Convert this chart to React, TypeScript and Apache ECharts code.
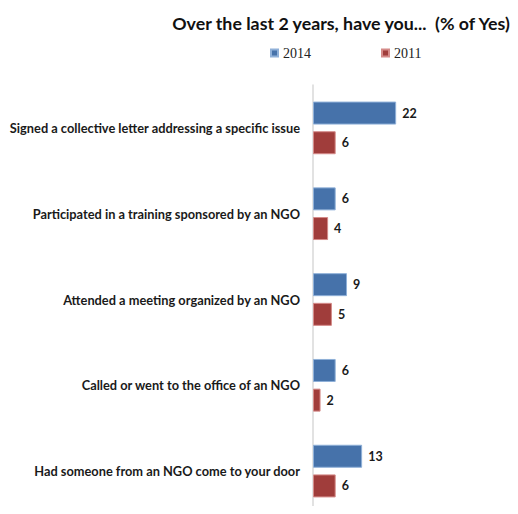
import React, { useEffect, useRef } from "react";
import * as echarts from "echarts";

const categories = [
  "Signed a collective letter addressing a specific issue",
  "Participated in a training sponsored by an NGO",
  "Attended a meeting organized by an NGO",
  "Called or went to the office of an NGO",
  "Had someone from an NGO come to your door",
];
const values2014 = [22, 6, 9, 6, 13];
const values2011 = [6, 4, 5, 2, 6];
const seriesNames = ["2014", "2011"];
const titleText = "Over the last 2 years, have you...  (% of Yes)";

const labelFont = "Lato, 'Open Sans', sans-serif";

export default function App() {
  const ref = useRef<HTMLDivElement>(null);
  useEffect(() => {
    if (!ref.current) return;
    const chart = echarts.init(ref.current, null, { renderer: "svg" });
    const valueLabel = {
      show: true,
      position: "right",
      distance: 6,
      fontFamily: labelFont,
      fontWeight: "bold",
      fontSize: 12.5,
      color: "#1a1a1a",
    };
    chart.setOption({
      animation: false,
      backgroundColor: "#ffffff",
      title: {
        text: titleText,
        left: 336,
        textAlign: "center",
        top: 9,
        textStyle: {
          fontFamily: labelFont,
          fontWeight: "bold",
          fontSize: 17.8,
          color: "#111111",
        },
      },
      legend: {
        data: seriesNames,
        left: 265,
        top: 41,
        icon: "rect",
        itemWidth: 7,
        itemHeight: 7,
        itemGap: 70,
        textStyle: {
          fontFamily: "'Liberation Serif', 'DejaVu Serif', serif",
          fontSize: 14,
          color: "#222222",
        },
      },
      grid: {
        left: 313,
        top: 85,
        width: 94.5,
        bottom: -4,
        containLabel: false,
      },
      xAxis: {
        type: "value",
        min: 0,
        max: 25,
        show: false,
      },
      yAxis: {
        type: "category",
        data: categories,
        inverse: true,
        axisLine: { show: true, lineStyle: { color: "#d9d9d9", width: 1.5 } },
        axisTick: { show: false },
        axisLabel: {
          margin: 13,
          fontFamily: labelFont,
          fontWeight: "bold",
          fontSize: 12.8,
          color: "#1a1a1a",
        },
      },
      series: [
        {
          name: seriesNames[0],
          type: "bar",
          data: values2014,
          barWidth: 23,
          barGap: "29%",
          itemStyle: { color: "#4672aa", borderColor: "#8fb0d8", borderWidth: 1 },
          label: valueLabel,
        },
        {
          name: seriesNames[1],
          type: "bar",
          data: values2011,
          barWidth: 23,
          itemStyle: { color: "#a03d3b", borderColor: "#d48a88", borderWidth: 1 },
          label: valueLabel,
        },
      ],
    });
    return () => chart.dispose();
  }, []);
  return <div ref={ref} style={{ width: 518, height: 514, margin: -8 }} />;
}
